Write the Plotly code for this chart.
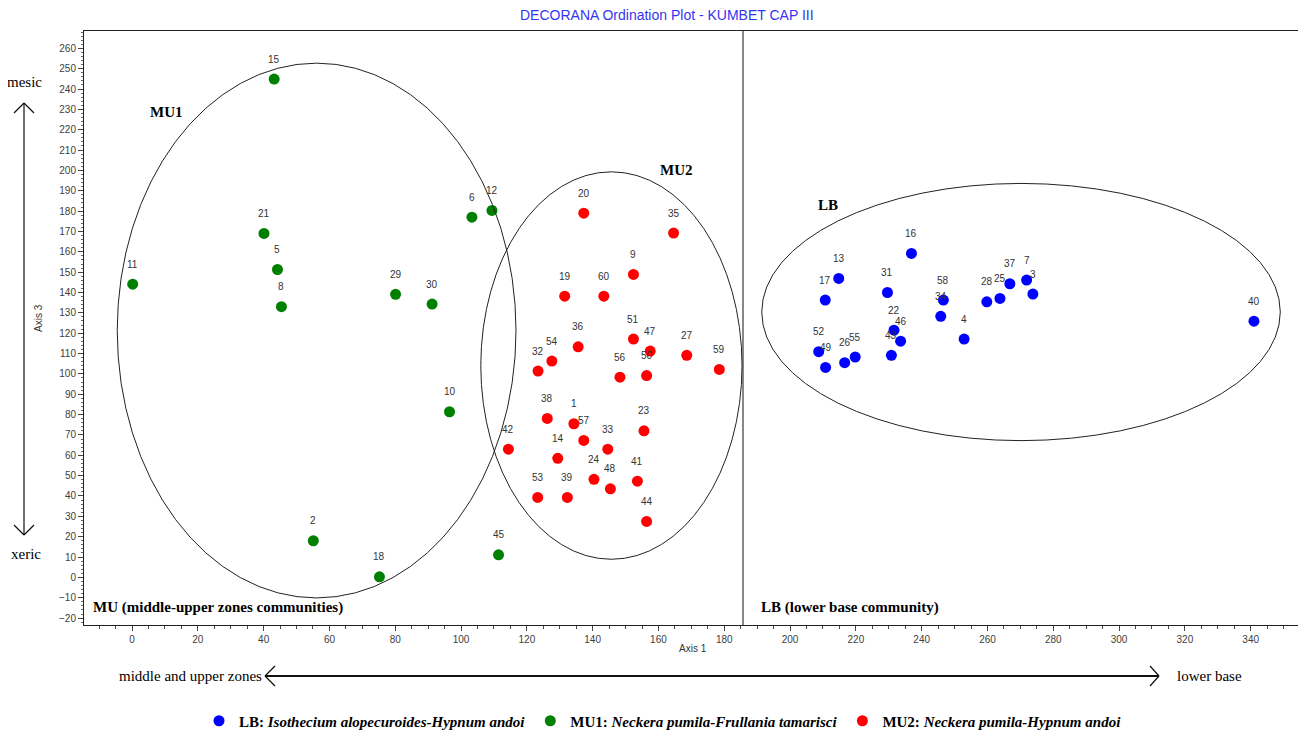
import plotly.graph_objects as go

# ---------------- data ----------------
lb_ids = ["16", "13", "17", "31", "58", "34", "28", "25", "37", "7", "3", "22", "46", "43", "4", "52", "49", "26", "55", "40"]
lb_x = [236.9, 214.8, 210.7, 229.6, 246.6, 245.8, 259.8, 263.8, 266.8, 271.9, 273.8, 231.6, 233.6, 230.8, 252.9, 208.7, 210.8, 216.6, 219.8, 341.0]
lb_y = [159.2, 146.9, 136.3, 140.0, 136.3, 128.3, 135.4, 137.1, 144.3, 146.1, 139.2, 121.5, 116.1, 109.1, 117.1, 110.9, 103.2, 105.5, 108.3, 125.9]

mu1_ids = ["15", "21", "5", "8", "11", "29", "30", "2", "18", "10", "45", "6", "12"]
mu1_x = [43.2, 40.1, 44.2, 45.4, 0.2, 80.1, 91.2, 55.1, 75.2, 96.5, 111.4, 103.3, 109.4]
mu1_y = [244.9, 169.0, 151.3, 133.0, 144.1, 139.1, 134.3, 18.0, 0.3, 81.4, 11.1, 177.0, 180.3]

mu2_ids = ["20", "35", "9", "19", "60", "51", "36", "47", "27", "54", "59", "32", "56", "50",
           "38", "1", "57", "23", "42", "33", "14", "24", "41", "48", "53", "39", "44"]
mu2_x = [137.3, 164.6, 152.4, 131.5, 143.4, 152.4, 135.6, 157.5, 168.6, 127.6, 178.5, 123.4, 148.3, 156.4,
         126.2, 134.3, 137.3, 155.6, 114.4, 144.6, 129.4, 140.4, 153.6, 145.4, 123.3, 132.3, 156.4]
mu2_y = [179.0, 169.2, 148.9, 138.2, 138.2, 117.1, 113.3, 111.2, 109.1, 106.3, 102.2, 101.4, 98.4, 99.2,
         78.1, 75.5, 67.3, 72.0, 63.0, 63.0, 58.5, 48.2, 47.3, 43.5, 39.3, 39.3, 27.5]

group_names = [
    "<b>LB:</b> <b><i>Isothecium alopecuroides-Hypnum andoi</i></b>",
    "<b>MU1:</b> <b><i>Neckera pumila-Frullania tamarisci</i></b>",
    "<b>MU2:</b> <b><i>Neckera pumila-Hypnum andoi</i></b>",
]

# ---------------- layout helpers ----------------
OFF = 8                      # default page (body) margin of the html page
W, H = 1306 - OFF, 731 - OFF
L, R, T, B = 84, 1302, 31, 625   # plot area in page pixels
XR = [-14.6, 355.6]
YR = [-23.4, 268.5]


def px(x):
    return (x - L) / (R - L)


def py(y):
    return (B - y) / (B - T)


LABEL_FONT = dict(family="Liberation Sans, Arial", size=10, color="#333333")
SERIF = "Liberation Serif, Times New Roman, serif"

fig = go.Figure()

groups = [
    (lb_ids, lb_x, lb_y, "#0000FF"),
    (mu1_ids, mu1_x, mu1_y, "#008000"),
    (mu2_ids, mu2_x, mu2_y, "#FF0000"),
]
annotations = []
for (ids, xs, ys, col), name in zip(groups, group_names):
    fig.add_trace(go.Scatter(
        x=xs, y=ys, mode="markers", name=name,
        marker=dict(color=col, size=11, line=dict(width=0)),
        hoverinfo="text", text=ids,
    ))
    for i, xv, yv in zip(ids, xs, ys):
        annotations.append(dict(x=xv, y=yv, xref="x", yref="y", text=i, showarrow=False,
                                yshift=20, font=LABEL_FONT))

# ellipses (data coordinates)
shapes = []
for cx, cy, ax, by in [(56.1, 121.3, 60.6, 131.4), (145.7, 104.1, 39.7, 95.2), (270.2, 130.4, 78.8, 63.2)]:
    shapes.append(dict(type="circle", xref="x", yref="y", x0=cx - ax, x1=cx + ax, y0=cy - by, y1=cy + by,
                       line=dict(color="#222222", width=1)))
# divider
shapes.append(dict(type="line", xref="x", yref="paper", x0=185.7, x1=185.7, y0=0, y1=1,
                   line=dict(color="#111111", width=1)))


def seg(x0, y0, x1, y1, w=1.2):
    shapes.append(dict(type="line", xref="paper", yref="paper", x0=px(x0), y0=py(y0), x1=px(x1), y1=py(y1),
                       line=dict(color="#111111", width=w)))


# vertical double arrow (mesic / xeric)
seg(24, 103, 24, 535)
seg(14, 113, 24, 103)
seg(34, 113, 24, 103)
seg(14, 525, 24, 535)
seg(34, 525, 24, 535)
# horizontal double arrow
seg(265, 676, 1159, 676, 1.8)
seg(275, 666, 265, 676, 1.2)
seg(275, 686, 265, 676, 1.2)
seg(1150, 666, 1159, 676, 1.2)
seg(1150, 686, 1159, 676, 1.2)


def ptext(x, y, text, size=15, family=SERIF, color="#000000", xanchor="center", textangle=0):
    annotations.append(dict(xref="paper", yref="paper", x=px(x), y=py(y), text=text, showarrow=False,
                            xanchor=xanchor, yanchor="middle", textangle=textangle,
                            font=dict(family=family, size=size, color=color)))


ptext(667, 15, "DECORANA Ordination Plot - KÜMBET CAP III", size=14,
      family="Liberation Sans, Arial", color="#3535F0")
ptext(25, 82, "mesic")
ptext(26, 554, "xeric")
ptext(38, 318, "Axis 3", size=10, family="Liberation Sans, Arial", color="#333333", textangle=-90)
ptext(693, 648, "Axis 1", size=10, family="Liberation Sans, Arial", color="#333333")
ptext(117, 676, "middle and upper zones", xanchor="left")
ptext(1175, 676, "lower base", xanchor="left")
# in-plot group labels
ptext(148, 112, "<b>MU1</b>", xanchor="left")
ptext(658, 170, "<b>MU2</b>", xanchor="left")
ptext(816, 205, "<b>LB</b>", xanchor="left")
ptext(91, 607, "<b>MU (middle-upper zones communities)</b>", xanchor="left")
ptext(759, 607, "<b>LB (lower base community)</b>", xanchor="left")

tickfont = dict(family="Liberation Sans, Arial", size=10, color="#404040")
fig.update_layout(
    template="none",
    width=W, height=H,
    margin=dict(l=L - OFF, r=(W + OFF) - R, t=T - OFF, b=(H + OFF) - B, pad=0, autoexpand=False),
    paper_bgcolor="white", plot_bgcolor="white",
    showlegend=True,
    legend=dict(orientation="h", xref="container", yref="container",
                x=(663 - OFF) / W, xanchor="center", y=1 - (721 - OFF) / H, yanchor="middle",
                font=dict(family=SERIF, size=15, color="#000000"), itemclick=False,
                bgcolor="rgba(0,0,0,0)", borderwidth=0),
    xaxis=dict(range=XR, dtick=20, tick0=0, showgrid=False, zeroline=False, automargin=False,
               showline=True, mirror=True, linecolor="#222222", linewidth=1,
               ticks="outside", ticklen=5, tickcolor="#444444", tickfont=tickfont,
               minor=dict(dtick=5, tick0=0, ticks="outside", ticklen=3, tickcolor="#444444", showgrid=False)),
    yaxis=dict(range=YR, dtick=10, tick0=0, showgrid=False, zeroline=False, automargin=False,
               showline=True, mirror=True, linecolor="#222222", linewidth=1,
               ticks="outside", ticklen=5, tickcolor="#444444", tickfont=tickfont,
               minor=dict(dtick=2, tick0=0, ticks="outside", ticklen=2, tickcolor="#666666", showgrid=False)),
    shapes=shapes,
    annotations=annotations,
)

fig.write_html("out.html")
